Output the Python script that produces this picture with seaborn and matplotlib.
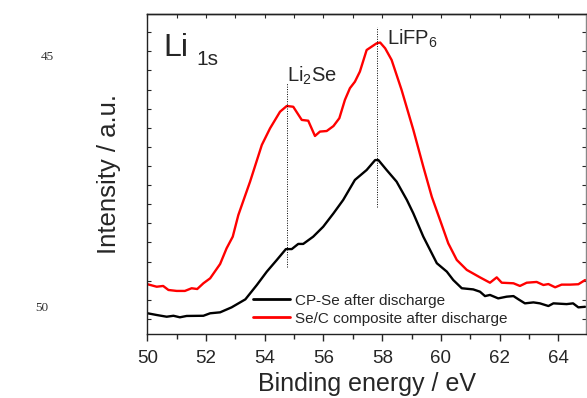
import matplotlib
matplotlib.use("Agg")
import matplotlib.pyplot as plt
from matplotlib.ticker import MultipleLocator
import seaborn as sns
import pandas as pd

# ---------------- data ----------------
red_energy = [50.01, 50.32, 50.54, 50.72, 51.00, 51.28, 51.51, 51.70, 51.91, 52.14,
              52.48, 52.70, 52.91, 53.10, 53.28, 53.50, 53.90, 54.18, 54.52, 54.75,
              54.97, 55.26, 55.48, 55.71, 55.88, 56.11, 56.34, 56.54, 56.73, 56.90,
              57.07, 57.24, 57.47, 57.81, 57.93, 58.10, 58.32, 58.66, 59.06, 59.40,
              59.69, 59.97, 60.25, 60.54, 60.88, 61.33, 61.67, 61.90, 62.07, 62.47,
              62.69, 62.92, 63.26, 63.49, 63.66, 63.89, 64.11, 64.40, 64.68, 64.91]
red_intensity = [2.81, 2.68, 2.72, 2.51, 2.46, 2.46, 2.60, 2.56, 2.86, 3.12,
                 3.87, 4.69, 5.30, 6.43, 7.22, 8.18, 10.10, 10.97, 11.84, 12.14,
                 12.10, 11.41, 11.37, 10.57, 10.80, 10.83, 11.09, 11.50, 12.46, 13.07,
                 13.41, 13.94, 15.07, 15.42, 15.46, 15.16, 14.55, 12.98, 10.89, 8.96,
                 7.38, 6.17, 4.95, 4.08, 3.56, 3.17, 2.89, 3.17, 2.89, 2.86,
                 2.72, 2.89, 2.93, 2.77, 2.82, 2.65, 2.79, 2.79, 2.81, 3.03]

black_energy = [50.01, 50.32, 50.66, 50.89, 51.11, 51.34, 51.91, 52.14, 52.48, 52.87,
                53.34, 53.73, 54.07, 54.41, 54.72, 54.92, 55.14, 55.31, 55.65, 55.99,
                56.34, 56.67, 57.07, 57.47, 57.76, 57.87, 58.15, 58.49, 58.84, 59.06,
                59.40, 59.86, 60.20, 60.42, 60.71, 61.10, 61.33, 61.50, 61.67, 61.95,
                62.24, 62.47, 62.64, 62.86, 63.15, 63.37, 63.66, 63.83, 64.28, 64.50,
                64.68, 64.91]
black_intensity = [1.29, 1.20, 1.11, 1.16, 1.08, 1.15, 1.16, 1.29, 1.34, 1.60,
                   2.02, 2.77, 3.47, 4.08, 4.65, 4.65, 4.92, 4.92, 5.30, 5.82,
                   6.52, 7.22, 8.27, 8.79, 9.31, 9.31, 8.79, 8.18, 7.22, 6.52,
                   5.30, 3.91, 3.47, 3.03, 2.60, 2.54, 2.42, 2.19, 2.25, 2.07,
                   2.16, 2.19, 2.02, 1.81, 1.86, 1.81, 1.67, 1.81, 1.77, 1.81,
                   1.60, 1.63]

series_labels = ["CP-Se after discharge", "Se/C composite after discharge"]
series_colors = ["#000000", "#ff0000"]

peak_names = ["Li$_2$Se", "LiFP$_6$"]
peak_positions = [54.77, 57.81]
peak_line_bottom = [3.73, 6.87]
peak_line_top = [13.33, 16.29]
peak_label_x = [54.76, 58.15]
peak_label_y = [13.41, 15.34]

x_ticks = [50, 52, 54, 56, 58, 60, 62, 64]

# ---------------- figure ----------------
sns.set_style("ticks")
plt.rcParams["font.family"] = ["Liberation Sans", "DejaVu Sans"]
plt.rcParams["mathtext.fontset"] = "custom"
plt.rcParams["mathtext.rm"] = "Liberation Sans"
plt.rcParams["mathtext.it"] = "Liberation Sans"

fig = plt.figure(figsize=(5.87, 3.98), dpi=100)
ax = fig.add_axes([147.3 / 587, (398 - 334.3) / 398, (585.7 - 147.3) / 587, 320.6 / 398])

df = pd.concat([
    pd.DataFrame({"energy": black_energy, "intensity": black_intensity, "series": series_labels[0]}),
    pd.DataFrame({"energy": red_energy, "intensity": red_intensity, "series": series_labels[1]}),
], ignore_index=True)

sns.lineplot(data=df, x="energy", y="intensity", hue="series",
             palette=dict(zip(series_labels, series_colors)),
             hue_order=series_labels, sort=False, estimator=None,
             linewidth=1.7, ax=ax)

ax.vlines(peak_positions, peak_line_bottom, peak_line_top,
          colors="black", linestyles=(0, (1, 1.5)), linewidth=0.7)
for name, px, py in zip(peak_names, peak_label_x, peak_label_y):
    ax.text(px, py, name, fontsize=14.5, ha="left", va="baseline")

ax.text(50.55, 14.78, "Li", fontsize=23, ha="left", va="baseline")
ax.text(51.68, 14.3, "1s", fontsize=15, ha="left", va="baseline")

ax.set_xlim(50, 64.93)
ax.set_ylim(0.19, 16.97)
ax.set_xticks(x_ticks)
ax.xaxis.set_minor_locator(MultipleLocator(1))
ax.yaxis.set_major_locator(MultipleLocator(1))
ax.set_yticklabels([])
ax.tick_params(axis="x", which="major", direction="out", length=5, width=1,
               labelsize=13.5, pad=6, top=False)
ax.tick_params(axis="x", which="minor", direction="out", length=3.5, width=1, top=False)
ax.tick_params(axis="y", which="major", direction="in", length=3, width=0.8,
               left=True, right=True, labelleft=False)
sec = ax.secondary_xaxis("top")
sec.set_xticks(range(50, 65))
sec.tick_params(direction="in", length=3, width=0.8, labeltop=False)
sec.set_xticklabels([])
sec.spines["top"].set_linewidth(1)

for s in ax.spines.values():
    s.set_linewidth(1)
    s.set_color("#222222")
ax.spines["right"].set_color("#888888")

ax.set_xlabel("Binding energy / eV", fontsize=18, labelpad=4)
ax.set_ylabel("Intensity / a.u.", fontsize=18.5, labelpad=19)

leg = ax.legend(frameon=False, loc="lower left", bbox_to_anchor=(0.241, 0.027),
                borderaxespad=0, borderpad=0, fontsize=11, handlelength=2.4,
                handletextpad=0.35, labelspacing=0.25)
for line in leg.get_lines():
    line.set_linewidth(2)

fig.text(47 / 587, 1 - 57 / 398, "45", fontsize=9.5, family=["Liberation Serif", "DejaVu Serif"],
         ha="center", va="center", color="#333333")
fig.text(42 / 587, 1 - 308 / 398, "50", fontsize=9.5, family=["Liberation Serif", "DejaVu Serif"],
         ha="center", va="center", color="#333333")

fig.savefig("out.png", dpi=100)
